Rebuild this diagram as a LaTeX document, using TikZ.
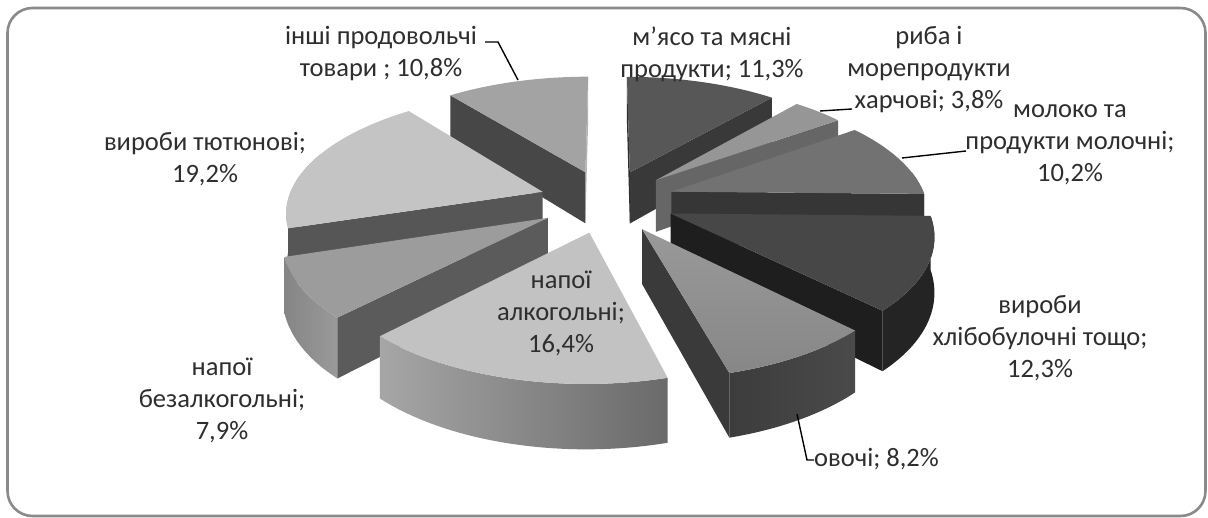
\documentclass[tikz,border=0pt]{standalone}
\usepackage{fontspec}
\setmainfont{Carlito}
\definecolor{insTop}{HTML}{A3A3A3}\definecolor{insSide}{HTML}{474747}\definecolor{insEnd}{HTML}{B5B5B5}
\definecolor{myaTop}{HTML}{575757}\definecolor{myaSide}{HTML}{393939}\definecolor{myaStart}{HTML}{2E2E2E}
\definecolor{rybTop}{HTML}{969696}\definecolor{rybSide}{HTML}{666666}
\definecolor{molTop}{HTML}{727272}\definecolor{molSide}{HTML}{363636}
\definecolor{tyuTop}{HTML}{C4C4C4}\definecolor{tyuSide}{HTML}{565656}\definecolor{tyuCurv}{HTML}{A8A8A8}
\definecolor{khlTop}{HTML}{474747}\definecolor{khlSide}{HTML}{1E1E1E}\definecolor{khlCurv}{HTML}{242424}
\definecolor{bezTop}{HTML}{9C9C9C}\definecolor{bezSide}{HTML}{5B5B5B}\definecolor{bezCurvL}{HTML}{9A9A9A}\definecolor{bezCurvR}{HTML}{858585}
\definecolor{ovoTop}{HTML}{878787}\definecolor{ovoSide}{HTML}{3A3A3A}\definecolor{ovoCurvL}{HTML}{3C3C3C}\definecolor{ovoCurvR}{HTML}{4A4A4A}
\definecolor{alkTop}{HTML}{C2C2C2}\definecolor{alkCurvL}{HTML}{A6A6A6}\definecolor{alkCurvR}{HTML}{6A6A6A}
\definecolor{txt}{HTML}{2E2E2E}\definecolor{frame}{HTML}{8A8A8A}
\newcommand\setslice[2]{\pgfmathsetmacro\smid{(#1+#2)/2}\pgfmathsetmacro\sex{0.267*sin(\smid)}\pgfmathsetmacro\sey{0.267*cos(\smid)}}
\newcommand\topface[3]{\path[#3] ({ax(0)},{ay(0)}) -- plot[domain=#1:#2,samples=40] ({qx(\x)},{qy(\x,0)}) -- cycle;}
\newcommand\radface[2]{\path[#2] ({ax(0)},{ay(0)}) -- ({qx(#1)},{qy(#1,0)}) -- ({qx(#1)},{qy(#1,-1)}) -- ({ax(0)},{ay(-1)}) -- cycle;}
\newcommand\curvface[3]{\path[#3] plot[domain=#1:#2,samples=40] ({qx(\x)},{qy(\x,0)}) -- plot[domain=#2:#1,samples=40] ({qx(\x)},{qy(\x,-1)}) -- cycle;}
\tikzset{
  declare function={
    px(\pu,\pv)=607+255*\pu/(1+0.1505*\pv);
    py(\pu,\pv,\pz)=200.9-(117.9*\pv+53*\pz)/(1+0.1505*\pv);
    qx(\qa)=px(\sex+sin(\qa),\sey+cos(\qa));
    qy(\qa,\pz)=py(\sex+sin(\qa),\sey+cos(\qa),\pz);
    ax(\pz)=px(\sex,\sey);
    ay(\pz)=py(\sex,\sey,\pz);
  },
  lbl/.style={font=\fontsize{26.5}{32}\selectfont, align=center, text=txt, inner sep=0pt},
  leader/.style={draw=black, line width=1.4pt},
}
\begin{document}
\begin{tikzpicture}[x=1pt,y=-1pt]
\useasboundingbox (0,0) rectangle (1208,518);
\fill[white] (0,0) rectangle (1208,518);
\draw[frame, line width=2.6pt, rounded corners=25pt] (7.5,8) rectangle (1205.5,516);
% інші
\setslice{321.5}{360}
\radface{360}{fill=insEnd}
\radface{321.5}{fill=insSide}
\topface{321.5}{360}{fill=insTop}
% мясо
\setslice{0}{40.7}
\radface{0}{fill=myaStart}
\radface{40.7}{fill=myaSide}
\topface{0}{40.7}{fill=myaTop}
% риба
\setslice{40.7}{54.4}
\radface{54.4}{fill=rybSide}
\topface{40.7}{54.4}{fill=rybTop}
% молоко
\setslice{54.4}{91.1}
\curvface{80}{91.1}{fill=molSide}
\radface{91.1}{fill=molSide}
\topface{54.4}{91.1}{fill=molTop}
% тютюн
\setslice{252.4}{321.5}
\curvface{252.4}{290}{fill=tyuCurv}
\radface{252.4}{fill=tyuSide}
\topface{252.4}{321.5}{fill=tyuTop}
% хліб
\setslice{91.1}{135.4}
\curvface{91.1}{135.4}{fill=khlCurv}
\radface{135.4}{fill=khlSide}
\topface{91.1}{135.4}{fill=khlTop}
% безалк
\setslice{223.9}{252.4}
\curvface{223.9}{252.4}{left color=bezCurvR, right color=bezCurvL}
\radface{223.9}{fill=bezSide}
\topface{223.9}{252.4}{fill=bezTop}
% овочі
\setslice{135.4}{164.9}
\curvface{135.4}{164.9}{left color=ovoCurvL, right color=ovoCurvR}
\radface{164.9}{fill=ovoSide}
\topface{135.4}{164.9}{top color=ovoTop!85!white, bottom color=ovoTop}
% алк
\setslice{164.9}{223.9}
\curvface{164.9}{223.9}{left color=alkCurvL, right color=alkCurvR}
\topface{164.9}{223.9}{fill=alkTop}
% labels
\node[lbl] (ins) at (381,54) {інші продовольчі\\товари ; 10,8\%};
\node[lbl] (mya) at (712,54) {м’ясо та мясні\\продукти; 11,3\%};
\node[lbl] (ryb) at (929,70) {риба і\\морепродукти\\харчові; 3,8\%};
\node[lbl] (mol) at (1070,145) {молоко та\\продукти молочні;\\10,2\%};
\node[lbl] (khl) at (1040,338) {вироби\\хлібобулочні тощо;\\12,3\%};
\node[lbl, anchor=west] (ovo) at (814,459) {овочі; 8,2\%};
\node[lbl] (alk) at (561,313) {напої\\алкогольні;\\16,4\%};
\node[lbl] (bez) at (222,400) {напої\\безалкогольні;\\7,9\%};
\node[lbl] (tyu) at (205,159) {вироби тютюнові;\\19,2\%};
% leaders
\coordinate (insA) at (485,42); \coordinate (insB) at (498,42); \coordinate (insC) at (518,80);
\draw[leader] (insA) -- (insB) -- (insC);
\coordinate (rybA) at (820,111); \coordinate (rybB) at (852,109);
\draw[leader] (rybA) -- (rybB);
\coordinate (molA) at (902,158); \coordinate (molB) at (966,151);
\draw[leader] (molA) -- (molB);
\coordinate (ovoA) at (797,414); \coordinate (ovoB) at (807,460); \coordinate (ovoC) at (ovo.west |- ovoB);
\draw[leader] (ovoA) -- (ovoB) -- (ovoC);
\end{tikzpicture}
\end{document}
